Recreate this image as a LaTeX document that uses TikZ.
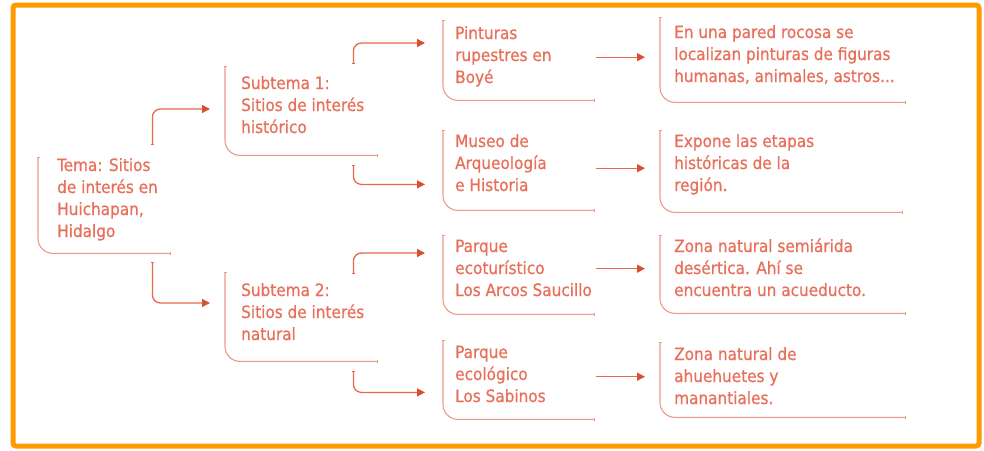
\documentclass[tikz,border=0pt]{standalone}
\usepackage{fontspec}
\setmainfont[FakeBold=0.7]{DejaVu Sans Condensed}
\usetikzlibrary{arrows.meta,calc}
\definecolor{txtc}{HTML}{E8705A}
\definecolor{brkc}{HTML}{EE9A88}
\definecolor{arrc}{HTML}{E5694F}
\definecolor{tipc}{HTML}{D9502E}
\definecolor{framec}{HTML}{FF9A00}
\tikzset{
  frm/.style={inner sep=0pt, anchor=north west},
  brk/.style={draw=brkc, line width=1.1pt, rounded corners=15pt, {Bar[width=3pt,line width=0.7pt]}-{Bar[width=3pt,line width=0.7pt]}},
  txt/.style={inner sep=0pt, anchor=base west, align=left, text=txtc, font=\fontsize{17}{22}\selectfont},
  arr/.style={draw=arrc, line width=1.3pt, rounded corners=8pt, {Bar[width=3pt,line width=0.7pt]}-{Triangle[length=8pt,width=8pt,color=tipc]}},
  harr/.style={draw=arrc, line width=1.3pt, -{Triangle[length=8pt,width=8pt,color=tipc]}}
}
\begin{document}
\begin{tikzpicture}[x=1pt,y=-1pt]
\useasboundingbox (0,0) rectangle (984,450);
\fill[white] (0,0) rectangle (984,450);
\draw[framec, line width=5pt, rounded corners=3pt] (13,5) rectangle (979,446);

% frames (bracket boxes)
\node[frm, minimum width=132pt, minimum height=96pt] (tema) at (38,157) {};
\node[frm, minimum width=152pt, minimum height=89pt] (s1) at (225,66) {};
\node[frm, minimum width=152pt, minimum height=89pt] (s2) at (225,272) {};
\node[frm, minimum width=151pt, minimum height=80pt] (p1) at (443,20) {};
\node[frm, minimum width=151pt, minimum height=80pt] (p2) at (443,130) {};
\node[frm, minimum width=151pt, minimum height=79pt] (p3) at (443,235) {};
\node[frm, minimum width=151pt, minimum height=79pt] (p4) at (443,340) {};
\node[frm, minimum width=245pt, minimum height=85pt] (d1) at (660,17) {};
\node[frm, minimum width=242pt, minimum height=82pt] (d2) at (660,130) {};
\node[frm, minimum width=245pt, minimum height=78pt] (d3) at (660,235) {};
\node[frm, minimum width=245pt, minimum height=75pt] (d4) at (660,342) {};

\foreach \n in {tema,s1,s2,p1,p2,p3,p4,d1,d2,d3,d4}{
  \draw[brk] (\n.north west) -- (\n.south west) -- (\n.south east);
}

% texts (base anchor = baseline of last line)
\node[txt] (tematx) at (57,237) {Tema: Sitios\\de interés en\\Huichapan,\\Hidalgo};
\node[txt] (s1tx) at (241,133) {Subtema 1:\\Sitios de interés\\histórico};
\node[txt] (s2tx) at (241,340) {Subtema 2:\\Sitios de interés\\natural};
\node[txt] (p1tx) at (455,83) {Pinturas\\rupestres en\\Boyé};
\node[txt] (p2tx) at (455,191) {Museo de\\Arqueología\\e Historia};
\node[txt] (p3tx) at (455,296) {Parque\\ecoturístico\\Los Arcos Saucillo};
\node[txt] (p4tx) at (455,402) {Parque\\ecológico\\Los Sabinos};
\node[txt] (d1tx) at (674,82) {En una pared rocosa se\\localizan pinturas de figuras\\humanas, animales, astros...};
\node[txt] (d2tx) at (674,191) {Expone las etapas\\históricas de la\\región.};
\node[txt] (d3tx) at (674,296) {Zona natural semiárida\\desértica. Ahí se\\encuentra un acueducto.};
\node[txt] (d4tx) at (674,404) {Zona natural de\\ahuehuetes y\\manantiales.};

% connectors
\draw[arr] ($(tema.north east)+(-18,-12)$) |- ($(s1.north west)+(-15,43)$);
\draw[arr] ($(tema.south east)+(-18,9)$) |- ($(s2.north west)+(-15,31)$);
\draw[arr] ($(s1.north east)+(-24,-2)$) |- ($(p1.north west)+(-18,23)$);
\draw[arr] ($(s1.south east)+(-24,10)$) |- ($(p2.south west)+(-18,-26)$);
\draw[arr] ($(s2.north east)+(-24,2)$) |- ($(p3.north west)+(-18,18)$);
\draw[arr] ($(s2.south east)+(-24,10)$) |- ($(p4.south west)+(-18,-27)$);

\draw[harr] ($(p1.east)+(2,-3)$) -- ($(p1.east -| d1.west)+(-15,-3)$);
\draw[harr] ($(p2.east)+(2,-2)$) -- ($(p2.east -| d2.west)+(-15,-2)$);
\draw[harr] ($(p3.east)+(2,-6)$) -- ($(p3.east -| d3.west)+(-15,-6)$);
\draw[harr] ($(p4.east)+(2,-3)$) -- ($(p4.east -| d4.west)+(-15,-3)$);
\end{tikzpicture}
\end{document}
